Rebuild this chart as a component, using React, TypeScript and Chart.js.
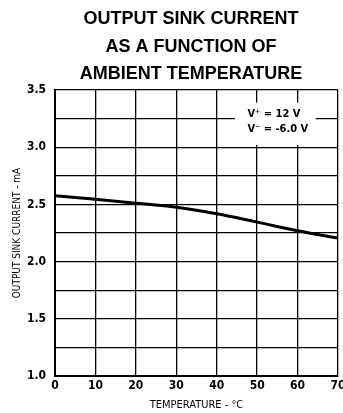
import React, { useEffect, useRef } from "react";
import { Chart, registerables } from "chart.js";

Chart.register(...registerables);

const titleLines = ["OUTPUT SINK CURRENT", "AS A FUNCTION OF", "AMBIENT TEMPERATURE"];
const temperatures = [0, 10, 20, 30, 40, 50, 60, 70];
const sinkCurrent = [2.575, 2.545, 2.51, 2.475, 2.418, 2.345, 2.27, 2.205];
const conditionLines = ["V\u207A = 12 V", "V\u207B = -6.0 V"];
const xTitle = "TEMPERATURE - \u00B0C";
const yTitle = "OUTPUT SINK CURRENT - mA";

const CONDENSED = "'DejaVu Sans Condensed', 'Liberation Sans Narrow', sans-serif";

export default function App() {
  const ref = useRef<HTMLCanvasElement | null>(null);

  useEffect(() => {
    if (!ref.current) return;
    const overlay = {
      id: "overlay",
      beforeDatasetsDraw(chart: any) {
        const { ctx, scales } = chart;
        const xs = scales.x;
        const ys = scales.y;
        const x0 = xs.getPixelForValue(44.5);
        const x1 = xs.getPixelForValue(64.5);
        const y0 = ys.getPixelForValue(3.39);
        const y1 = ys.getPixelForValue(3.02);
        ctx.save();
        ctx.fillStyle = "#ffffff";
        ctx.fillRect(x0, y0, x1 - x0, y1 - y0);
        ctx.fillStyle = "#000";
        ctx.font = "bold 11px " + CONDENSED;
        ctx.textAlign = "left";
        ctx.textBaseline = "alphabetic";
        const tx = xs.getPixelForValue(47.6);
        ctx.fillText(conditionLines[0], tx, ys.getPixelForValue(3.26));
        ctx.fillText(conditionLines[1], tx, ys.getPixelForValue(3.13));
        ctx.restore();
      },
      afterDraw(chart: any) {
        const { ctx } = chart;
        ctx.save();
        ctx.fillStyle = "#000";
        ctx.font = "bold 18px 'Liberation Sans', Arial, sans-serif";
        ctx.textAlign = "center";
        ctx.textBaseline = "alphabetic";
        const cx = 191;
        titleLines.forEach((t, i) => ctx.fillText(t, cx, 24 + i * 27.5));
        ctx.restore();
      },
    };

    const chart = new Chart(ref.current, {
      type: "line",
      data: {
        datasets: [
          {
            data: temperatures.map((t, i) => ({ x: t, y: sinkCurrent[i] })),
            borderColor: "#000",
            borderWidth: 3,
            pointRadius: 0,
            tension: 0.4,
            fill: false,
          },
        ],
      },
      options: {
        animation: false,
        responsive: false,
        layout: { padding: { top: 90, right: 5, left: 0, bottom: 0 } },
        plugins: {
          legend: { display: false },
          title: { display: false },
          tooltip: { enabled: false },
        },
        scales: {
          x: {
            type: "linear",
            min: 0,
            max: 70,
            ticks: {
              stepSize: 10,
              color: "#000",
              font: { family: CONDENSED, size: 12, weight: "bold" },
              padding: 3,
              maxRotation: 0,
            },
            grid: { color: "#000", lineWidth: 1.3, drawTicks: false },
            border: { color: "#000", width: 2 },
            title: {
              display: true,
              text: xTitle,
              color: "#000",
              font: { family: CONDENSED, size: 11 },
              padding: { top: 0, bottom: 1 },
            },
            afterFit(scale: any) {
              scale.height = 37;
              scale.paddingLeft = 0;
              scale.paddingRight = 0;
            },
          },
          y: {
            type: "linear",
            min: 1.0,
            max: 3.5,
            ticks: {
              stepSize: 0.25,
              color: "#000",
              font: { family: CONDENSED, size: 12, weight: "bold" },
              padding: 9,
              autoSkip: false,
              callback: (v: any) => {
                const n = Number(v);
                return Math.abs(n * 2 - Math.round(n * 2)) < 1e-6 ? n.toFixed(1) : "";
              },
            },
            grid: { color: "#000", lineWidth: 1.3, drawTicks: false },
            border: { color: "#000", width: 2 },
            title: {
              display: true,
              text: yTitle,
              color: "#000",
              font: { family: CONDENSED, size: 10 },
              padding: { top: 11, bottom: 0 },
            },
            afterFit(scale: any) {
              scale.width = 55;
              scale.paddingTop = 0;
              scale.paddingBottom = 0;
            },
          },
        },
      },
      plugins: [overlay],
    });
    return () => chart.destroy();
  }, []);

  return (
    <div style={{ position: "absolute", left: 0, top: 0, width: 343, height: 413, background: "#fff" }}>
      <canvas ref={ref} width={343} height={413} style={{ display: "block" }} />
    </div>
  );
}
